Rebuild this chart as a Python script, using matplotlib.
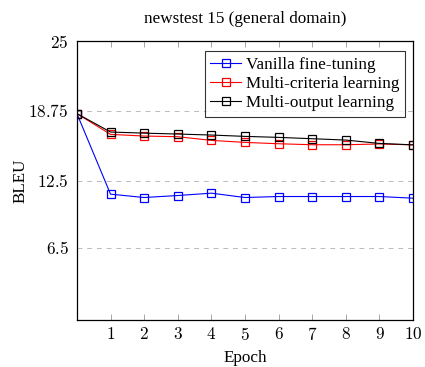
import matplotlib
matplotlib.use("Agg")
import matplotlib.pyplot as plt
from matplotlib.ticker import FixedLocator, FuncFormatter

plt.rcParams['font.family'] = ['Liberation Serif', 'DejaVu Serif']
plt.rcParams['mathtext.fontset'] = 'cm'

# --- data ---
epochs = [0, 1, 2, 3, 4, 5, 6, 7, 8, 9, 10]
vanilla = [18.5, 11.28, 10.98, 11.16, 11.37, 10.98, 11.07, 11.07, 11.07, 11.07, 10.92]
multi_criteria = [18.5, 16.64, 16.49, 16.43, 16.10, 15.92, 15.80, 15.71, 15.71, 15.78, 15.70]
multi_output = [18.5, 16.85, 16.75, 16.67, 16.58, 16.46, 16.37, 16.25, 16.13, 15.83, 15.70]

x_ticks = [1, 2, 3, 4, 5, 6, 7, 8, 9, 10]
y_ticks = [6.5, 12.5, 18.75, 25]
y_tick_labels = ['6.5', '12.5', '18.75', '25']

fig = plt.figure(figsize=(4.25, 3.67), dpi=100)
ax = fig.add_axes([0.181, 0.128, 0.791, 0.760])

style = dict(marker='s', markersize=5.5, markerfacecolor='none', linewidth=0.8,
             markeredgewidth=0.9)
ax.plot(epochs, vanilla, color='#0000ff', label='Vanilla fine-tuning', **style)
ax.plot(epochs, multi_criteria, color='#ff0000', label='Multi-criteria learning', **style)
ax.plot(epochs, multi_output, color='black', label='Multi-output learning', **style)

ax.set_xlim(0, 10)
ax.set_ylim(0, 25)

ax.xaxis.set_major_locator(FixedLocator(x_ticks))
ax.xaxis.set_major_formatter(FuncFormatter(lambda v, p: '$%d$' % v))
ax.yaxis.set_major_locator(FixedLocator(y_ticks))
ax.set_yticklabels(['$%s$' % t for t in y_tick_labels])

ax.tick_params(axis='x', direction='in', top=True, length=4, width=0.6,
               color='#999999', labelsize=12.3, pad=5)
ax.tick_params(axis='y', direction='in', length=0, labelsize=12.3, pad=6)

ax.grid(axis='y', linestyle=(0, (5, 5)), color='#bbbbbb', linewidth=0.7)
ax.set_axisbelow(True)
for s in ax.spines.values():
    s.set_linewidth(0.9)

ax.set_xlabel('Epoch', fontsize=12.3, labelpad=4)
ax.set_ylabel('BLEU', fontsize=12.3, labelpad=0)
ax.set_title('newstest 15 (general domain)', fontsize=12.3, pad=13)

leg = ax.legend(loc='upper right', bbox_to_anchor=(0.985, 0.975), fontsize=12.3,
                frameon=True, fancybox=False, edgecolor='black',
                handlelength=1.8, handletextpad=0.3, borderpad=0.3,
                labelspacing=0.2, borderaxespad=0.2)
leg.get_frame().set_linewidth(0.8)

fig.savefig('out.png', dpi=100)
